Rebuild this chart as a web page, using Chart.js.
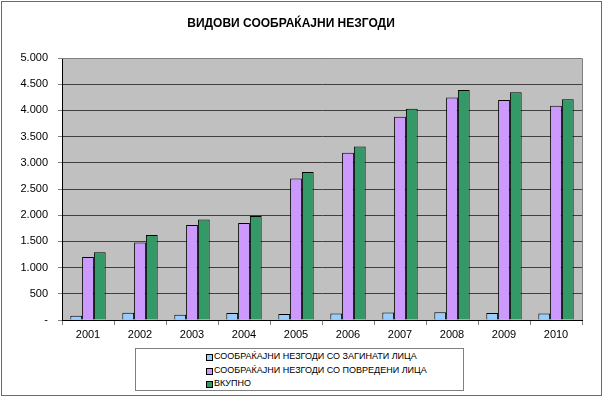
<!DOCTYPE html>
<html>
<head>
<meta charset="utf-8">
<script src="https://cdn.jsdelivr.net/npm/chart.js@4"></script>
<style>
  html, body { margin: 0; padding: 0; background: #fff; }
  #wrap { position: relative; width: 604px; height: 399px; }
  #legend {
    position: absolute; left: 135px; top: 348px; width: 329px; height: 43px;
    border: 1px solid #808080; background: #fff; box-sizing: border-box;
    font-family: "Liberation Sans", Arial, sans-serif; font-size: 9px; color: #000;
    padding-top: 1px;
  }
  #legend .item { position: relative; height: 13.5px; line-height: 13.5px; padding-left: 78px; white-space: nowrap; }
  #legend .sw { position: absolute; left: 70px; top: 4px; width: 5px; height: 5px; border: 1px solid #000; }
</style>
</head>
<body>
<div id="wrap">
  <canvas id="c" width="604" height="399"></canvas>
  <div id="legend"></div>
</div>
<script>
const categories = ['2001','2002','2003','2004','2005','2006','2007','2008','2009','2010'];
const seriesNames = [
  'СООБРАЌАЈНИ НЕЗГОДИ СО ЗАГИНАТИ ЛИЦА',
  'СООБРАЌАЈНИ НЕЗГОДИ СО ПОВРЕДЕНИ ЛИЦА',
  'ВКУПНО'
];
const killed  = [80, 140, 100, 135, 115, 125, 145, 150, 135, 125];
const injured = [1200, 1480, 1815, 1850, 2700, 3190, 3880, 4245, 4200, 4090];
const total   = [1295, 1620, 1920, 1985, 2825, 3310, 4030, 4390, 4345, 4215];
const titleText = 'ВИДОВИ СООБРАЌАЈНИ НЕЗГОДИ';
const colors = ['#99CCFF', '#CC99FF', '#339966'];

const FONT = '"Liberation Sans", Arial, sans-serif';

const frame = {
  id: 'frame',
  beforeDraw(chart) {
    const ctx = chart.ctx, a = chart.chartArea;
    ctx.save();
    ctx.fillStyle = '#fff';
    ctx.fillRect(0, 0, chart.width, chart.height);
    ctx.fillStyle = '#C0C0C0';
    ctx.fillRect(a.left, a.top, a.right - a.left, a.bottom - a.top);
    ctx.restore();
  },
  afterDraw(chart) {
    const ctx = chart.ctx, a = chart.chartArea;
    ctx.save();
    ctx.strokeStyle = '#808080';
    ctx.lineWidth = 1;
    ctx.beginPath();
    ctx.moveTo(a.left, a.top + 0.5);
    ctx.lineTo(a.right + 0.5, a.top + 0.5);
    ctx.lineTo(a.right + 0.5, a.bottom);
    ctx.stroke();
    ctx.strokeStyle = '#6a6a6a';
    ctx.strokeRect(1.5, 1.5, 600, 394);
    ctx.restore();
  }
};

const data = [killed, injured, total];
const chart = new Chart(document.getElementById('c'), {
  type: 'bar',
  data: {
    labels: categories,
    datasets: data.map((d, i) => ({
      label: seriesNames[i],
      data: d,
      backgroundColor: colors[i],
      borderColor: '#000',
      borderWidth: 1,
      categoryPercentage: 0.68,
      barPercentage: 1.0
    }))
  },
  options: {
    responsive: false,
    animation: false,
    layout: { padding: { left: 0, right: 22, top: 0, bottom: 0 } },
    plugins: {
      legend: { display: false },
      tooltip: { enabled: false },
      title: {
        display: true,
        text: titleText,
        color: '#000',
        font: { family: FONT, size: 12, weight: 'bold' },
        padding: { top: 16, bottom: 27.6 }
      }
    },
    scales: {
      x: {
        grid: { display: true, drawOnChartArea: false, drawTicks: true, tickLength: 5, color: '#808080', offset: true },
        border: { display: true, color: '#000', width: 1 },
        ticks: { color: '#000', font: { family: FONT, size: 11 }, padding: 3, maxRotation: 0 },
        afterFit(scale) { scale.height = 79; }
      },
      y: {
        min: 0, max: 5000,
        ticks: {
          stepSize: 500, color: '#000', font: { family: FONT, size: 11 }, padding: 10,
          callback: v => v === 0 ? '-' : v.toString().replace(/\B(?=(\d{3})+(?!\d))/g, '.')
        },
        grid: { color: '#404040', tickColor: '#808080', tickLength: 4, drawTicks: true },
        border: { display: true, color: '#000', width: 1 },
        afterFit(scale) { scale.width = 62; }
      }
    }
  },
  plugins: [frame]
});

const lg = document.getElementById('legend');
seriesNames.forEach((n, i) => {
  const it = document.createElement('div');
  it.className = 'item';
  const sw = document.createElement('span');
  sw.className = 'sw';
  sw.style.background = colors[i];
  it.appendChild(sw);
  it.appendChild(document.createTextNode(n));
  lg.appendChild(it);
});
</script>
</body>
</html>
